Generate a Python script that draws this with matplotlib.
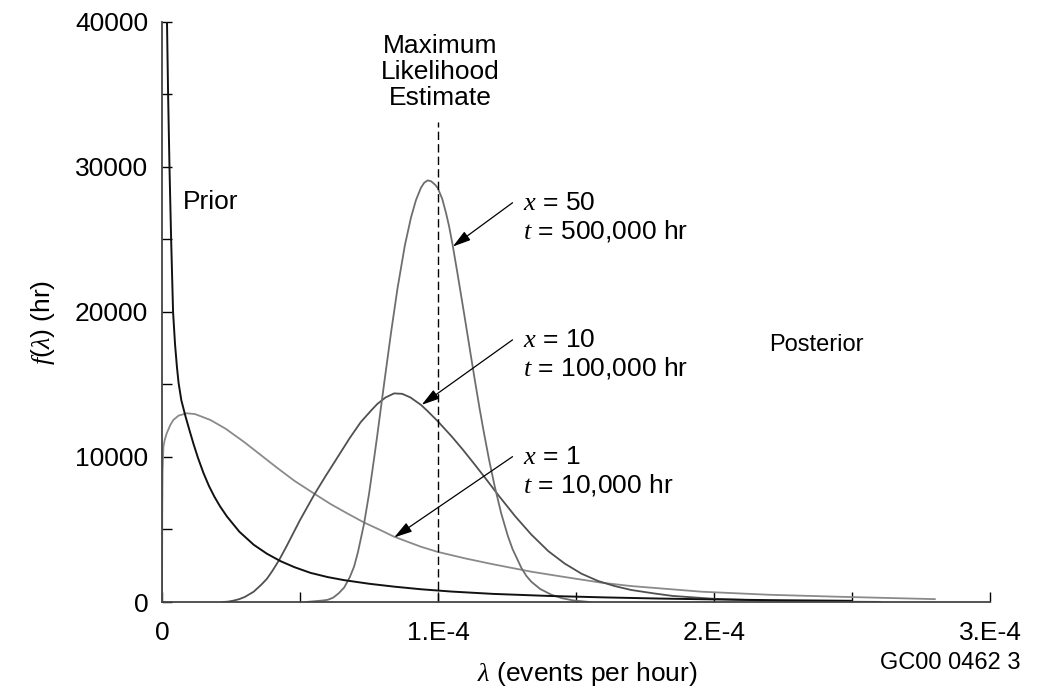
import numpy as np
import matplotlib.pyplot as plt
from matplotlib.ticker import MultipleLocator

plt.rcParams['font.family'] = ['Liberation Sans', 'DejaVu Sans']
plt.rcParams['mathtext.fontset'] = 'custom'
plt.rcParams['mathtext.it'] = 'Liberation Serif:italic'
plt.rcParams['mathtext.rm'] = 'Liberation Sans'

# valeurs (lambda en unites de 1E-4, densite en hr)
prior_lam = [0.018, 0.022, 0.027, 0.033, 0.04, 0.047, 0.054, 0.06, 0.07, 0.085, 0.1,
             0.114, 0.13, 0.15, 0.17, 0.19, 0.21, 0.235, 0.28, 0.332, 0.38, 0.429, 0.48,
             0.538, 0.6, 0.659, 0.75, 0.841, 0.938, 1.05, 1.2, 1.4, 1.6, 1.8, 2.0, 2.2,
             2.4, 2.5]
prior_f = [40000, 35000, 30000, 25000, 20000, 17800, 16200, 15100, 13900, 12800, 11800,
           10900, 9950, 8900, 8000, 7250, 6600, 5900, 4850, 3950, 3330, 2820, 2400,
           2010, 1720, 1510, 1260, 1060, 880, 720, 560, 420, 320, 240, 180, 130,
           100, 85]

x1_lam = [0.0, 0.0008, 0.002, 0.005, 0.01, 0.017, 0.03, 0.041, 0.06, 0.09, 0.12, 0.175,
          0.23, 0.296, 0.36, 0.417, 0.48, 0.553, 0.611, 0.67, 0.732, 0.79, 0.841, 0.938,
          1.0, 1.1, 1.2, 1.338, 1.45, 1.593, 1.7, 1.956, 2.2, 2.44, 2.65, 2.8]
x1_f = [0, 6000, 9000, 10710, 11200, 11630, 12200, 12550, 12850, 13010, 12950, 12550,
        11950, 11050, 10100, 9250, 8350, 7450, 6750, 6120, 5480, 4970, 4500, 3810,
        3450, 3000, 2600, 2090, 1750, 1330, 1100, 710, 500, 370, 270, 200]

x10_lam = [0.22, 0.24, 0.26, 0.28, 0.3, 0.332, 0.36, 0.38, 0.40, 0.423, 0.45, 0.477, 0.5,
           0.553, 0.59, 0.635, 0.68, 0.72, 0.76, 0.78, 0.81, 0.841, 0.87, 0.9, 0.938,
           0.96, 1.0, 1.05, 1.09, 1.132, 1.175, 1.217, 1.28, 1.338, 1.40, 1.459, 1.52,
           1.58, 1.64, 1.7, 1.78, 1.85, 2.0, 2.2, 2.4, 2.6]
x10_f = [0, 30, 100, 200, 350, 710, 1200, 1600, 2150, 2850, 3800, 4800, 5650,
         7450, 8600, 9950, 11300, 12400, 13250, 13650, 14100, 14380, 14350, 14100, 13590,
         13200, 12440, 11400, 10500, 9500, 8450, 7400, 5900, 4650, 3500, 2650, 1950,
         1450, 1100, 830, 600, 420, 220, 90, 30, 10]

x50_lam = [0.52, 0.58, 0.60, 0.62, 0.64, 0.66, 0.68, 0.696, 0.71, 0.732, 0.75, 0.768, 0.78,
           0.79, 0.805, 0.83, 0.853, 0.88, 0.902, 0.92, 0.938, 0.95, 0.9625, 0.975, 0.99,
           0.999, 1.015, 1.029, 1.04, 1.053, 1.07, 1.096, 1.115, 1.132, 1.15, 1.165,
           1.185, 1.205, 1.229, 1.253, 1.27, 1.302, 1.32, 1.338, 1.37, 1.411, 1.45, 1.49,
           1.55]
x50_f = [0, 100, 150, 300, 600, 1000, 1700, 2450, 3450, 5400, 7450, 9850, 11500,
         12950, 15100, 18600, 21600, 24600, 26500, 27700, 28550, 28900, 29060, 29000, 28750,
         28530, 27800, 26810, 25900, 24600, 22700, 19700, 17450, 15450, 13400, 11800,
         9800, 8000, 6100, 4550, 3650, 2350, 1800, 1400, 900, 500, 260, 110,
         0]

mle = 1.0
xticks = [0, 1, 2, 3]
xtick_labels = ["0", "1.E-4", "2.E-4", "3.E-4"]
yticks = [0, 10000, 20000, 30000, 40000]

fig = plt.figure(figsize=(10.46, 6.9), dpi=100)
ax = fig.add_axes([0.1549, 0.1275, 0.7916, 0.8411])

ax.plot(x1_lam, x1_f, color='#8a8a8a', lw=1.3)
ax.plot(x10_lam, x10_f, color='#505050', lw=1.3)
ax.plot(x50_lam, x50_f, color='#6e6e6e', lw=1.3)
ax.plot(prior_lam, prior_f, color='#111111', lw=1.4)

# estimation du maximum de vraisemblance
ax.plot([mle, mle], [0, 33100], color='black', lw=1, dashes=(6, 3))
ax.text(1.007, 36550, "Maximum\nLikelihood\nEstimate", ha='center', va='center',
        fontsize=19, linespacing=1.1)

ax.text(0.0764, 27590, "Prior", ha='left', va='center', fontsize=19)
ax.text(2.199, 17725, "Posterior", ha='left', va='center', fontsize=17)

labels = [("50", "500,000", 1.0535, 24500, 27520, 25540),
          ("10", "100,000", 0.9407, 13590, 18070, 16140),
          ("1", "10,000", 0.841, 4450, 10020, 8070)]
for xv, tv, tip_l, tip_f, y1, y2 in labels:
    ax.annotate("", xy=(tip_l, tip_f), xytext=(1.27, y1),
                arrowprops=dict(arrowstyle='-|>,head_length=0.55,head_width=0.16',
                                mutation_scale=20, color='black', lw=0.9,
                                shrinkA=0, shrinkB=0))
    ax.text(1.308, y1, "$x$ = " + xv, ha='left', va='center', fontsize=19)
    ax.text(1.308, y2, "$t$ = " + tv + " hr", ha='left', va='center', fontsize=19)

ax.set_xlim(0, 3)
ax.set_ylim(0, 40000)
ax.set_xticks(xticks)
ax.set_xticklabels(xtick_labels)
ax.set_yticks(yticks)
ax.xaxis.set_minor_locator(MultipleLocator(0.5))
ax.yaxis.set_minor_locator(MultipleLocator(5000))
ax.tick_params(which='both', direction='in', length=7, width=1, labelsize=19)
ax.tick_params(axis='y', which='both', pad=10)
ax.tick_params(axis='x', which='both', pad=14)
ax.spines['top'].set_visible(False)
ax.spines['right'].set_visible(False)
for s in ['left', 'bottom']:
    ax.spines[s].set_linewidth(1.3)
    ax.spines[s].set_color('#444444')

fig.text(587.5 / 1046, 1 - 673.7 / 690, r"$\lambda$ (events per hour)", ha='center',
         va='center', fontsize=19)
fig.text(43 / 1046, 1 - 322 / 690, r"$f(\lambda)$ (hr)", ha='center', va='center',
         rotation=90, fontsize=19)
fig.text(1021 / 1046, 1 - 663 / 690, "GC00 0462 3", ha='right', va='center',
         fontsize=17, family=['Liberation Sans Narrow', 'Liberation Sans'])

fig.savefig("out.png", dpi=100)
